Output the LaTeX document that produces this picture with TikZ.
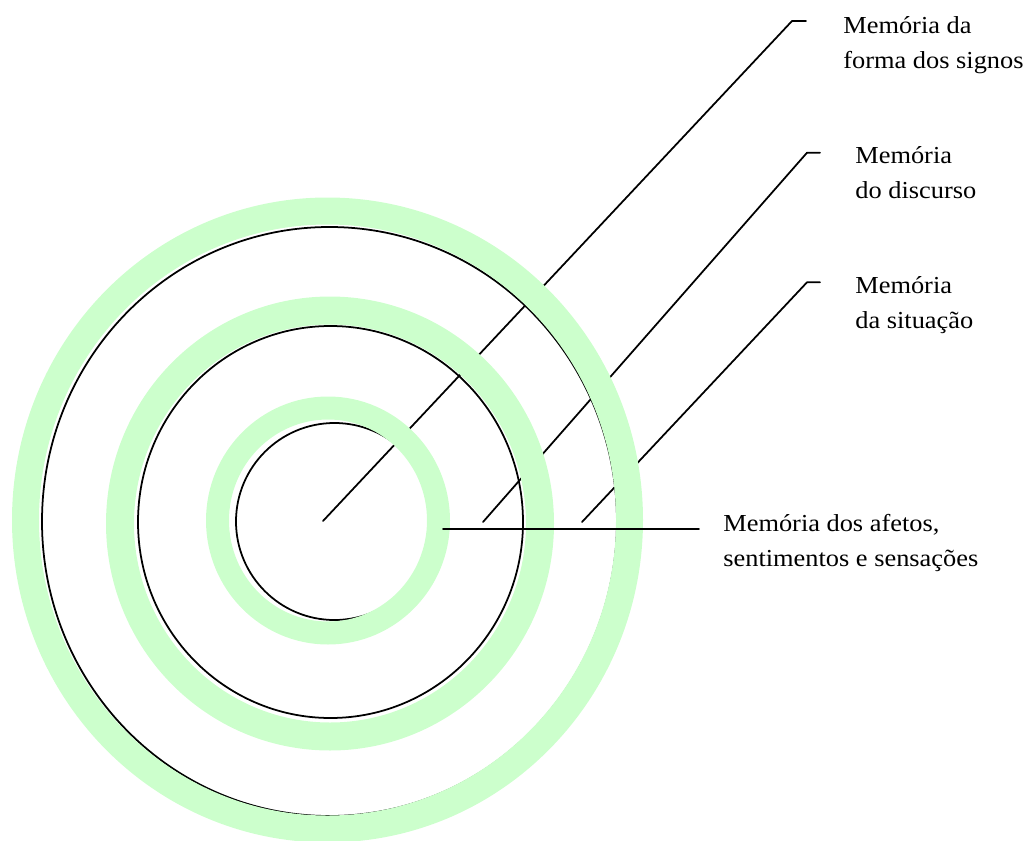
\documentclass[tikz,border=0pt]{standalone}
\usepackage{fontspec}
\setmainfont{Liberation Serif}[FakeStretch=1.08]
\definecolor{ringgreen}{HTML}{CCFFCC}

\begin{document}
\begin{tikzpicture}[x=0.02cm,y=0.02cm,line cap=round,line join=round,
  ring/.style={draw=ringgreen},
  rim/.style={draw=black,line width=1pt},
  guide/.style={line width=1pt},
  lbl/.style={anchor=base west,inner sep=0pt,align=left,
    font=\fontsize{13.9}{19.9}\selectfont}]
  \useasboundingbox (0,0) rectangle (1027,840);
  % black circles
  \draw[rim] (334.5,318.5) circle [radius=98.5];
  \draw[rim] (330.5,318) ellipse [x radius=192.5,y radius=196];
  \draw[rim] (329.5,318.5) ellipse [x radius=287.5,y radius=294.5];
  % labels (base = last line)
  \node[lbl] (signos) at (843,771.7) {Memória da\\forma dos signos};
  \node[lbl] (discurso) at (855,641.7) {Memória\\do discurso};
  \node[lbl] (situacao) at (855,511.7) {Memória\\da situação};
  \node[lbl] (afetos) at (723,273.3) {Memória dos afetos,\\sentimentos e sensações};
  % leaders
  \coordinate (o1) at (323,319);
  \coordinate (k1) at (792,819);
  \coordinate (o2) at (483,318);
  \coordinate (k2) at (807,687.3);
  \coordinate (o3) at (582,318);
  \coordinate (k3) at (807,557.7);
  \draw[guide] (o1) -- (k1) -- ++(14,0);
  \draw[guide] (o2) -- (k2) -- ++(13,0);
  \draw[guide] (o3) -- (k3) -- ++(13,0);
  % green rings
  \draw[ring,line width=0.46cm] (328,319.5) ellipse [x radius=110.5,y radius=112.5];
  \draw[ring,line width=0.56cm] (330,316.5) ellipse [x radius=210,y radius=213];
  \draw[ring,line width=0.54cm] (327.5,320) ellipse [x radius=302,y radius=309];
  \coordinate (o4) at (443,310.7);
  \coordinate (e4) at (699,310.7);
  \draw[guide] (o4) -- (e4);
\end{tikzpicture}
\end{document}
